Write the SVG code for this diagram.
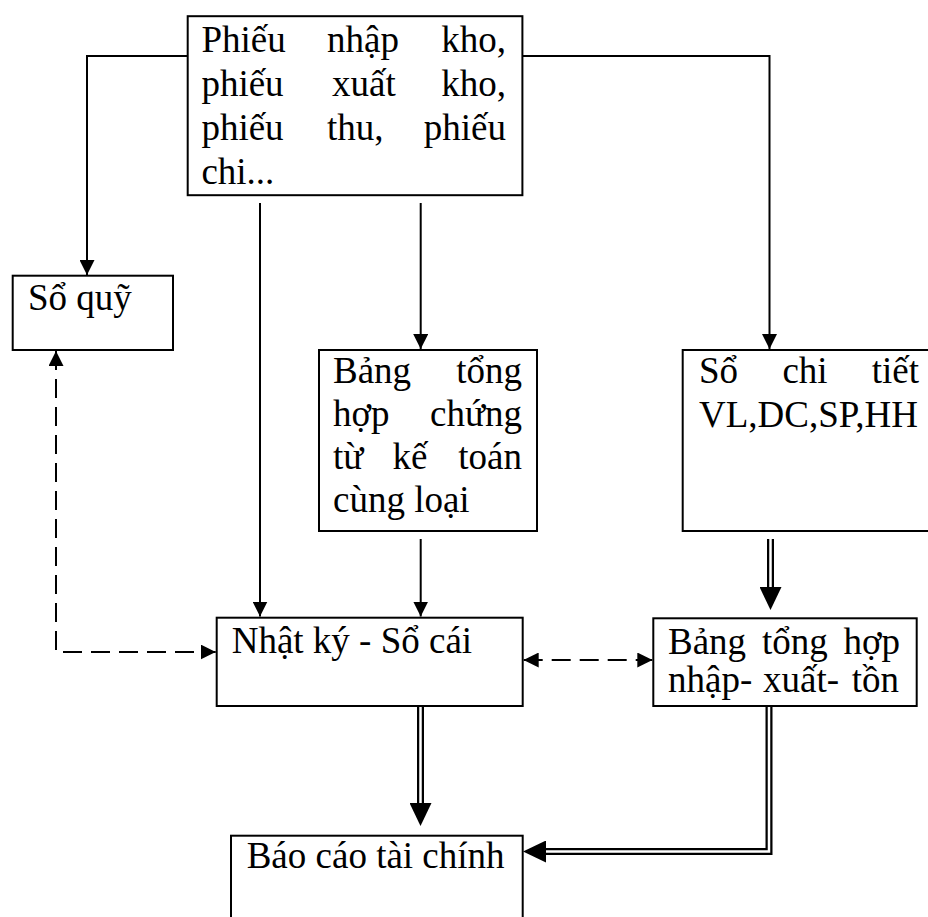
<svg xmlns="http://www.w3.org/2000/svg" width="928" height="917" viewBox="0 0 928 917">
<style>
.box{fill:#fff;stroke:#000;stroke-width:2}
.t{font-family:"Liberation Serif","Times New Roman",serif;font-size:37px;fill:#000}
.e{text-anchor:end}
.m{text-anchor:middle}
.ln{fill:none;stroke:#000;stroke-width:2}
.dash{stroke-dasharray:19 9}
.dblo{fill:none;stroke:#000;stroke-width:7;stroke-linejoin:miter}
.dbli{fill:none;stroke:#fff;stroke-width:2.5;stroke-linejoin:miter}
</style>
<defs>
<marker id="ah" markerUnits="userSpaceOnUse" markerWidth="15" markerHeight="15" viewBox="0 0 15 15" refX="15" refY="7.5" orient="auto-start-reverse"><path d="M0,0 L15,7.5 L0,15 z" fill="#000"/></marker>
<marker id="ahb" markerUnits="userSpaceOnUse" markerWidth="23" markerHeight="22" viewBox="0 0 23 22" refX="0" refY="11" orient="auto"><path d="M0,0 L23,11 L0,22 z" fill="#000"/></marker>
</defs>
<rect width="928" height="917" fill="#fff"/>
<g id="connectors">
<path class="ln" d="M187.7,56 H87 V275" marker-end="url(#ah)"/>
<path class="ln" d="M522.4,56 H769.5 V349" marker-end="url(#ah)"/>
<path class="ln" d="M260,203 V616.5" marker-end="url(#ah)"/>
<path class="ln" d="M420.7,203 V349" marker-end="url(#ah)"/>
<path class="ln" d="M420.7,539 V616.5" marker-end="url(#ah)"/>
<path class="ln dash" d="M56,351 V652 H215.7" marker-start="url(#ah)" marker-end="url(#ah)"/>
<path class="ln dash" d="M523.7,660 H652.3" marker-start="url(#ah)" marker-end="url(#ah)"/>
<path class="dblo" d="M770.5,539 V587" marker-end="url(#ahb)"/>
<path class="dbli" d="M770.5,539 V587"/>
<path class="dblo" d="M420.5,707 V803" marker-end="url(#ahb)"/>
<path class="dbli" d="M420.5,707 V803"/>
<path class="dblo" d="M769,707 V851.5 H546" marker-end="url(#ahb)"/>
<path class="dbli" d="M769,707 V851.5 H546"/>
</g>
<g id="phieu">
<rect class="box" x="187.7" y="16.2" width="334.7" height="179"/>
<text class="t" y="51.7"><tspan x="201.4">Phiếu</tspan><tspan x="327">nhập</tspan></text>
<text class="t e" x="506" y="51.7">kho,</text>
<text class="t" y="95.8"><tspan x="201.4">phiếu</tspan><tspan x="332">xuất</tspan></text>
<text class="t e" x="506" y="95.8">kho,</text>
<text class="t" y="140"><tspan x="201.4">phiếu</tspan><tspan x="327">thu,</tspan></text>
<text class="t e" x="506" y="140">phiếu</text>
<text class="t" x="201.4" y="184">chi...</text>
</g>
<g id="soquy">
<rect class="box" x="12.7" y="275.7" width="160.3" height="74.3"/>
<text class="t" x="28" y="310">Sổ quỹ</text>
</g>
<g id="bangtonghop">
<rect class="box" x="319" y="350" width="218" height="181"/>
<text class="t" x="333" y="383">Bảng</text>
<text class="t e" x="522" y="383">tổng</text>
<text class="t" x="333" y="426">hợp</text>
<text class="t e" x="522" y="426">chứng</text>
<text class="t" x="333" y="469">từ</text>
<text class="t m" x="410" y="469">kế</text>
<text class="t e" x="522" y="469">toán</text>
<text class="t" x="333" y="512">cùng loại</text>
</g>
<g id="sochitiet">
<rect class="box" x="682.7" y="350" width="260" height="181"/>
<text class="t" x="699" y="383">Sổ</text>
<text class="t m" x="805" y="383">chi</text>
<text class="t e" x="919" y="383">tiết</text>
<text class="t" x="699" y="427">VL,DC,SP,HH</text>
</g>
<g id="nhatky">
<rect class="box" x="216.7" y="617.7" width="306" height="88.3"/>
<text class="t" x="231.7" y="652.7">Nhật ký - Sổ cái</text>
</g>
<g id="nxt">
<rect class="box" x="653.3" y="618.3" width="263.4" height="87.7"/>
<text class="t" y="654.3"><tspan x="668">Bảng</tspan><tspan x="762">tổng</tspan></text>
<text class="t e" x="900" y="654.3">hợp</text>
<text class="t" y="691.7"><tspan x="668">nhập-</tspan><tspan x="763">xuất-</tspan></text>
<text class="t e" x="899" y="691.7">tồn</text>
</g>
<g id="baocao">
<rect class="box" x="231" y="835.7" width="291.7" height="100"/>
<text class="t" x="246.7" y="868">Báo cáo tài chính</text>
</g>
</svg>
